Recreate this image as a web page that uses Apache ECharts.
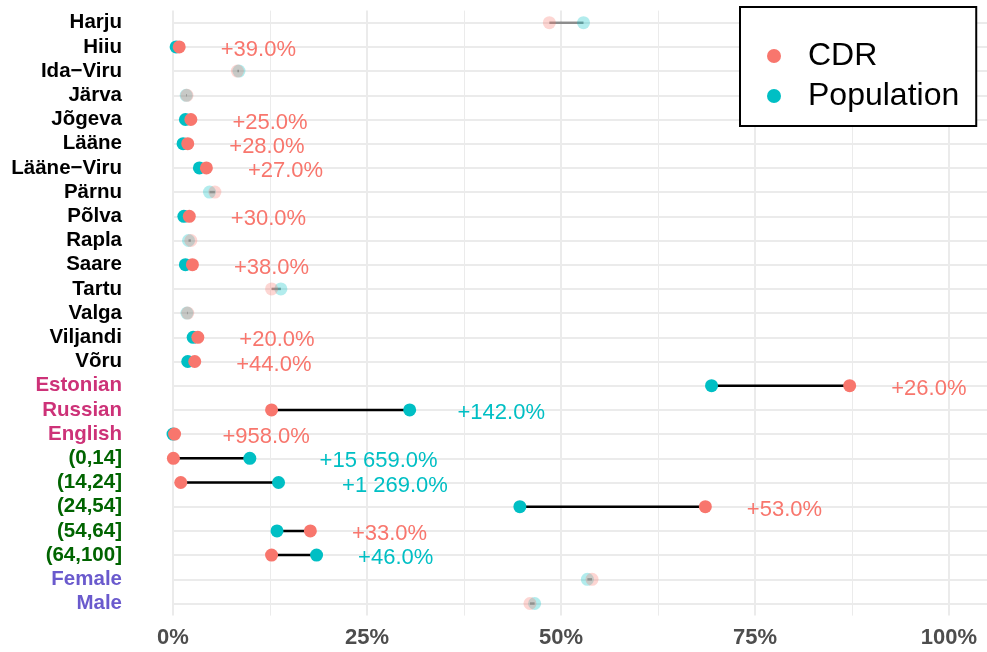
<!DOCTYPE html>
<html>
<head>
<meta charset="utf-8">
<script src="https://cdn.jsdelivr.net/npm/echarts@6/dist/echarts.min.js"></script>
<style>
  html, body { margin: 0; padding: 0; background: #fff; }
  #chart { width: 987px; height: 652px; }
</style>
</head>
<body>
<div id="chart"></div>
<script>
// rows, top to bottom
var categories = ['Harju', 'Hiiu', 'Ida−Viru', 'Järva', 'Jõgeva', 'Lääne', 'Lääne−Viru', 'Pärnu', 'Põlva', 'Rapla',
  'Saare', 'Tartu', 'Valga', 'Viljandi', 'Võru', 'Estonian', 'Russian', 'English',
  '(0,14]', '(14,24]', '(24,54]', '(54,64]', '(64,100]', 'Female', 'Male'];
// 0 = county, 1 = language, 2 = age group, 3 = sex
var groupOf = [0, 0, 0, 0, 0, 0, 0, 0, 0, 0, 0, 0, 0, 0, 0, 1, 1, 1, 2, 2, 2, 2, 2, 3, 3];

// shares in %
var cdr = [48.5, 0.8, 8.3, 1.8, 2.3, 1.9, 4.3, 5.4, 2.1, 2.3, 2.5, 12.7, 1.9, 3.2, 2.8,
  87.2, 12.7, 0.2, 0.05, 1.0, 68.6, 17.7, 12.7, 54.0, 46.0];
var population = [52.9, 0.4, 8.5, 1.7, 1.6, 1.3, 3.4, 4.7, 1.4, 2.0, 1.6, 13.9, 1.8, 2.6, 1.9,
  69.4, 30.5, 0.0, 9.9, 13.6, 44.7, 13.4, 18.5, 53.4, 46.6];
var significant = [0, 1, 0, 0, 1, 1, 1, 0, 1, 0, 1, 0, 0, 1, 1, 1, 1, 1, 1, 1, 1, 1, 1, 0, 0];
var diffLabels = ['', '+39.0%', '', '', '+25.0%', '+28.0%', '+27.0%', '', '+30.0%', '', '+38.0%', '', '', '+20.0%', '+44.0%',
  '+26.0%', '+142.0%', '+958.0%', '+15 659.0%', '+1 269.0%', '+53.0%', '+33.0%', '+46.0%', '', ''];

var xTicks = [0, 25, 50, 75, 100];

var RED = '#F8766D', TEAL = '#00BFC4';
var FONT = 'Liberation Sans, Arial, sans-serif';

var chart = echarts.init(document.getElementById('chart'));

var segData = [], popData = [], cdrData = [], labelData = [];
for (var i = 0; i < categories.length; i++) {
  var op = significant[i] ? 1 : 0.3;
  segData.push([cdr[i], population[i], i, significant[i]]);
  popData.push({ value: [population[i], i], itemStyle: { opacity: op } });
  cdrData.push({ value: [cdr[i], i], itemStyle: { opacity: op } });
  if (diffLabels[i]) {
    var hi = Math.max(cdr[i], population[i]);
    // text sits to the right of the larger dot
    labelData.push({
      value: [hi + 0.6 + 1.6 * diffLabels[i].length, i],
      text: diffLabels[i],
      label: { color: cdr[i] > population[i] ? RED : TEAL }
    });
  }
}

var option = {
  backgroundColor: '#fff',
  animation: false,
  textStyle: { fontFamily: FONT },
  grid: { left: 173, right: 38, top: 10.6, bottom: 36.4, containLabel: false },
  xAxis: {
    type: 'value', min: 0, max: 100, interval: 25,
    axisLine: { show: false }, axisTick: { show: false },
    axisLabel: {
      margin: 11, fontSize: 22, fontWeight: 'bold', color: '#4D4D4D', fontFamily: FONT,
      formatter: function (v) { return xTicks.indexOf(v) >= 0 ? v + '%' : ''; }
    },
    splitLine: { show: true, lineStyle: { color: '#EBEBEB', width: 2 } },
    minorTick: { show: false, splitNumber: 2 },
    minorSplitLine: { show: true, lineStyle: { color: '#EBEBEB', width: 1 } }
  },
  yAxis: {
    type: 'category', data: categories, inverse: true, boundaryGap: true,
    offset: 39,
    axisLine: { show: false },
    axisTick: { show: true, alignWithLabel: true, inside: true, length: 851, lineStyle: { color: '#EBEBEB', width: 2 } },
    splitLine: { show: false },
    axisLabel: {
      margin: 12,
      formatter: function (v, idx) { return '{g' + groupOf[idx] + '|' + v + '}'; },
      rich: {
        g0: { color: '#000000', fontSize: 20.5, fontWeight: 'bold', fontFamily: FONT },
        g1: { color: '#CD3278', fontSize: 20.5, fontWeight: 'bold', fontFamily: FONT },
        g2: { color: '#006400', fontSize: 20.5, fontWeight: 'bold', fontFamily: FONT },
        g3: { color: '#6A5ACD', fontSize: 20.5, fontWeight: 'bold', fontFamily: FONT }
      }
    }
  },
  legend: {
    orient: 'vertical', left: 740, top: 7,
    padding: [33, 17, 14, 27],
    itemWidth: 58, itemHeight: 14, itemGap: 8,
    borderColor: '#000', borderWidth: 2, backgroundColor: '#fff',
    textStyle: { fontSize: 32, lineHeight: 32, color: '#000', fontFamily: FONT },
    data: [{ name: 'CDR', icon: 'circle' }, { name: 'Population', icon: 'circle' }]
  },
  series: [
    {
      type: 'custom', name: 'segments', silent: true,
      renderItem: function (params, api) {
        var row = api.value(2);
        var a = api.coord([api.value(0), row]);
        var b = api.coord([api.value(1), row]);
        return {
          type: 'line',
          shape: { x1: a[0], y1: a[1], x2: b[0], y2: b[1] },
          style: { stroke: api.value(3) ? '#000' : 'rgba(0,0,0,0.4)', lineWidth: 2.5 }
        };
      },
      encode: { x: [0, 1], y: 2 },
      data: segData
    },
    {
      type: 'scatter', name: 'Population', symbolSize: 13, clip: false,
      itemStyle: { color: TEAL, opacity: 1 }, data: popData
    },
    {
      type: 'scatter', name: 'CDR', symbolSize: 13, clip: false,
      itemStyle: { color: RED, opacity: 1 }, data: cdrData
    },
    {
      type: 'scatter', name: 'labels', symbolSize: 0, clip: false, silent: true,
      itemStyle: { opacity: 1 },
      label: {
        show: true, position: 'inside', offset: [0, 3], fontSize: 22, fontFamily: FONT,
        formatter: function (p) { return p.data.text; }
      },
      data: labelData
    }
  ]
};

chart.setOption(option);
</script>
</body>
</html>
